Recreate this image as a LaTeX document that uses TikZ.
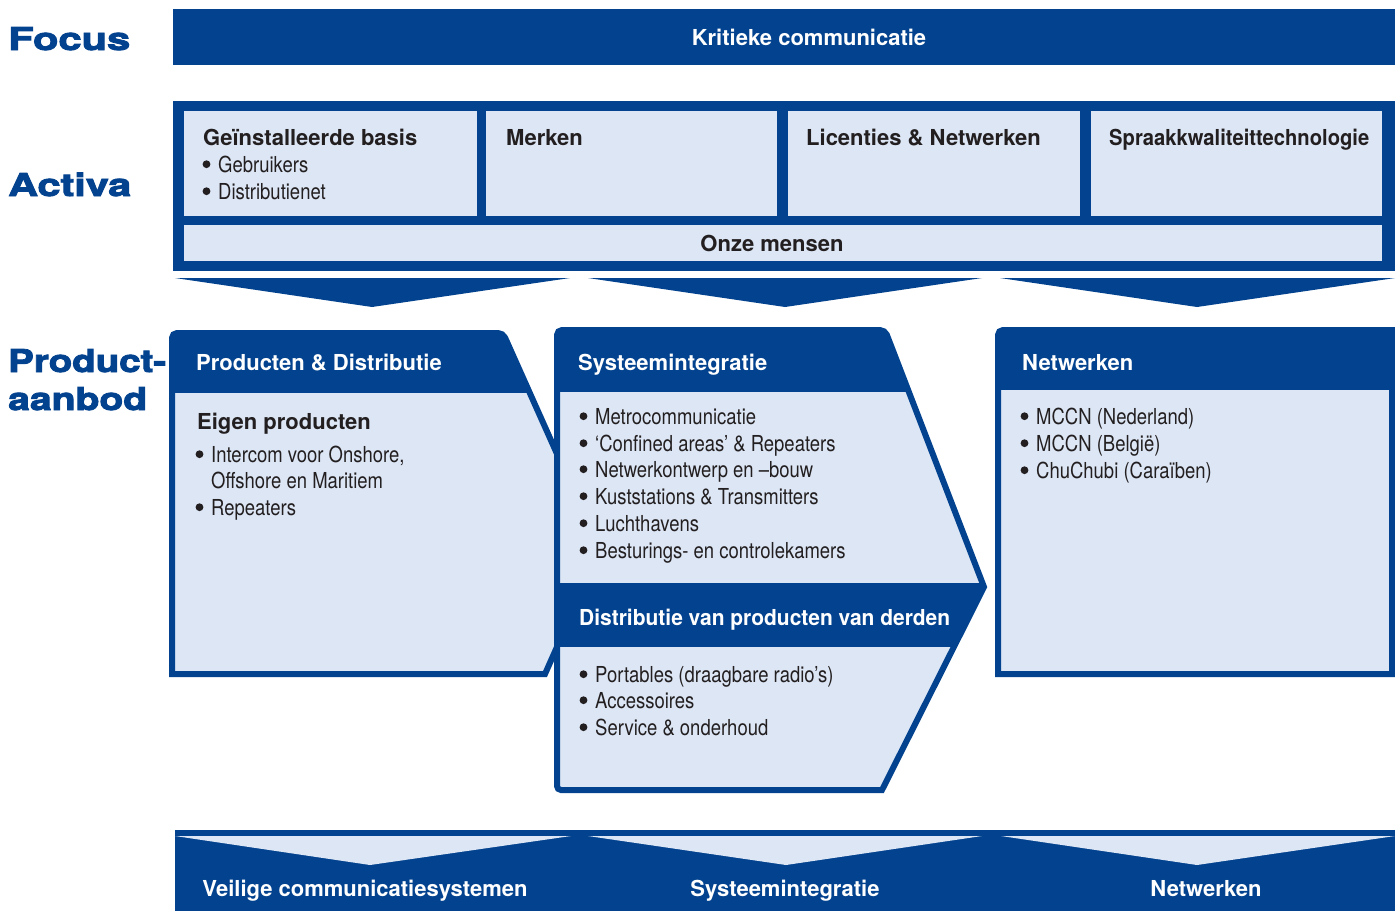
\documentclass[tikz,border=0pt]{standalone}
\usepackage{fontspec}
\usepackage{graphicx}
\setmainfont{TeX Gyre Heros}
\newfontfamily\condf{TeX Gyre Heros}[FakeStretch=0.84]
\newfontfamily\headf{TeX Gyre Heros}[FakeBold=2.5]
\definecolor{navy}{HTML}{03428E}
\definecolor{pale}{HTML}{DCE6F5}
\definecolor{ink}{HTML}{231F20}
\newcommand{\bulat}[1]{\fill[ink] ([shift={(-11.5,-7.8)}]#1.base west) circle (3.9pt);}
\tikzset{
  ttl/.style={anchor=base west, inner sep=0pt, font=\bfseries\fontsize{22}{26}\selectfont, text=ink},
  wttl/.style={ttl, text=white},
  itm/.style={anchor=base west, inner sep=0pt, font=\condf\fontsize{22}{26}\selectfont, text=ink},
  lbl/.style={anchor=base west, inner sep=0pt, font=\headf\bfseries\fontsize{31.5}{32}\selectfont, text=navy},
  ctr/.style={anchor=base, inner sep=0pt, font=\bfseries\fontsize{22}{26}\selectfont, text=white},
  frame/.style={draw=navy, line width=6pt, line join=miter},
}
\begin{document}
\begin{tikzpicture}[x=1pt, y=-1pt]
\useasboundingbox[fill=white] (0,0) rectangle (1395,911);

% ---------- left labels ----------
\node[lbl] (lf) at (8,50) {\resizebox{122pt}{\height}{Focus}};
\node[lbl] (la) at (8,196) {\resizebox{123pt}{\height}{Activa}};
\node[lbl] (lp) at (8,372) {\resizebox{158pt}{\height}{Product-}};
\node[lbl] (lb) at (8,410) {\resizebox{139pt}{\height}{aanbod}};

% ---------- focus bar ----------
\fill[navy] (173,9) rectangle (1395,65);
\node[ctr] (kc) at (809,45) {Kritieke communicatie};

% ---------- activa ----------
\fill[navy] (173,101) rectangle (1395,271);
\fill[pale] (184,111) rectangle (477,216);
\fill[pale] (486,111) rectangle (777,216);
\fill[pale] (788,111) rectangle (1080,216);
\fill[pale] (1091,111) rectangle (1382,216);
\fill[pale] (184,225) rectangle (1382,261);
\node[ttl] (gb) at (203,145) {Geïnstalleerde basis};
\node[itm] (gb1) at (218,172) {Gebruikers};
\node[itm] (gb2) at (218,199) {Distributienet};
\bulat{gb1}\bulat{gb2}
\node[ttl] (mk) at (506,145) {Merken};
\node[ttl] (ln) at (806,145) {Licenties \& Netwerken};
\node[ttl] (sk) at (1109,145) {\resizebox{260pt}{\height}{Spraakkwaliteittechnologie}};
\node[ctr, text=ink] (om) at (772,251) {Onze mensen};

% ---------- chevrons under activa ----------
\fill[navy] (175,278) -- (570,278) -- (372,307) -- cycle;
\fill[navy] (588,278) -- (982,278) -- (785,307) -- cycle;
\fill[navy] (1000,278) -- (1395,278) -- (1197,307) -- cycle;

% ---------- box 1: Producten & Distributie ----------
\fill[pale] (172,360) [rounded corners=5] -- (172,333) -- (503,333) [sharp corners] -- (600,550) -- (545,674) -- (172,674) -- cycle;
\begin{scope}
  \clip (172,360) [rounded corners=5] -- (172,333) -- (503,333) [sharp corners] -- (600,550) -- (545,674) -- (172,674) -- cycle;
  \fill[navy] (160,320) rectangle (620,393);
\end{scope}
\draw[frame] (172,360) [rounded corners=5] -- (172,333) -- (503,333) [sharp corners] -- (600,550) -- (545,674) -- (172,674) -- cycle;
\node[wttl] (h1) at (196,370) {Producten \& Distributie};
\node[ttl] (ep) at (197,429) {Eigen producten};
\node[itm] (e1) at (211,462) {Intercom voor Onshore,};
\node[itm] (e1b) at (211,488) {Offshore en Maritiem};
\node[itm] (e2) at (211,515) {Repeaters};
\bulat{e1}\bulat{e2}

% ---------- box 2: Systeemintegratie ----------
\fill[pale] (557,360) [rounded corners=5] -- (557,330) -- (885,330) [sharp corners] -- (984,587) -- (882,790) [rounded corners=4] -- (557,790) [sharp corners] -- cycle;
\begin{scope}
  \clip (557,360) [rounded corners=5] -- (557,330) -- (885,330) [sharp corners] -- (984,587) -- (882,790) [rounded corners=4] -- (557,790) [sharp corners] -- cycle;
  \fill[navy] (550,320) rectangle (1000,392);
  \fill[navy] (550,583) rectangle (1000,647);
\end{scope}
\draw[frame] (557,360) [rounded corners=5] -- (557,330) -- (885,330) [sharp corners] -- (984,587) -- (882,790) [rounded corners=4] -- (557,790) [sharp corners] -- cycle;
\node[wttl] (h2) at (578,370) {Systeemintegratie};
\node[itm] (s1) at (595,424) {Metrocommunicatie};
\node[itm] (s2) at (595,451) {‘Confined areas’ \& Repeaters};
\node[itm] (s3) at (595,477) {Netwerkontwerp en –bouw};
\node[itm] (s4) at (595,504) {Kuststations \& Transmitters};
\node[itm] (s5) at (595,531) {Luchthavens};
\node[itm] (s6) at (595,558) {Besturings- en controlekamers};
\bulat{s1}\bulat{s2}\bulat{s3}\bulat{s4}\bulat{s5}\bulat{s6}
\node[wttl] (h4) at (579,625) {\resizebox{371pt}{\height}{Distributie van producten van derden}};
\node[itm] (d1) at (595,682) {Portables (draagbare radio’s)};
\node[itm] (d2) at (595,708) {Accessoires};
\node[itm] (d3) at (595,735) {Service \& onderhoud};
\bulat{d1}\bulat{d2}\bulat{d3}

% ---------- box 3: Netwerken ----------
\fill[pale] (998,360) [rounded corners=5] -- (998,330) [sharp corners] -- (1392,330) -- (1392,674) -- (998,674) -- cycle;
\begin{scope}
  \clip (998,360) [rounded corners=5] -- (998,330) [sharp corners] -- (1392,330) -- (1392,674) -- (998,674) -- cycle;
  \fill[navy] (990,320) rectangle (1400,390);
\end{scope}
\draw[frame] (998,360) [rounded corners=5] -- (998,330) [sharp corners] -- (1392,330) -- (1392,674) -- (998,674) -- cycle;
\node[wttl] (h3) at (1022,370) {Netwerken};
\node[itm] (n1) at (1036,424) {MCCN (Nederland)};
\node[itm] (n2) at (1036,451) {MCCN (België)};
\node[itm] (n3) at (1036,478) {ChuChubi (Caraïben)};
\bulat{n1}\bulat{n2}\bulat{n3}

% ---------- bottom band ----------
\fill[navy] (175,830) rectangle (1395,911);
\fill[pale] (175,836) -- (571,836) -- (370,865) -- cycle;
\fill[pale] (588,836) -- (982,836) -- (786,865) -- cycle;
\fill[pale] (1001,836) -- (1395,836) -- (1197,865) -- cycle;
\node[ctr] (b1) at (365,896) {Veilige communicatiesystemen};
\node[ctr] (b2) at (785,896) {Systeemintegratie};
\node[ctr] (b3) at (1206,896) {Netwerken};
\end{tikzpicture}
\end{document}
